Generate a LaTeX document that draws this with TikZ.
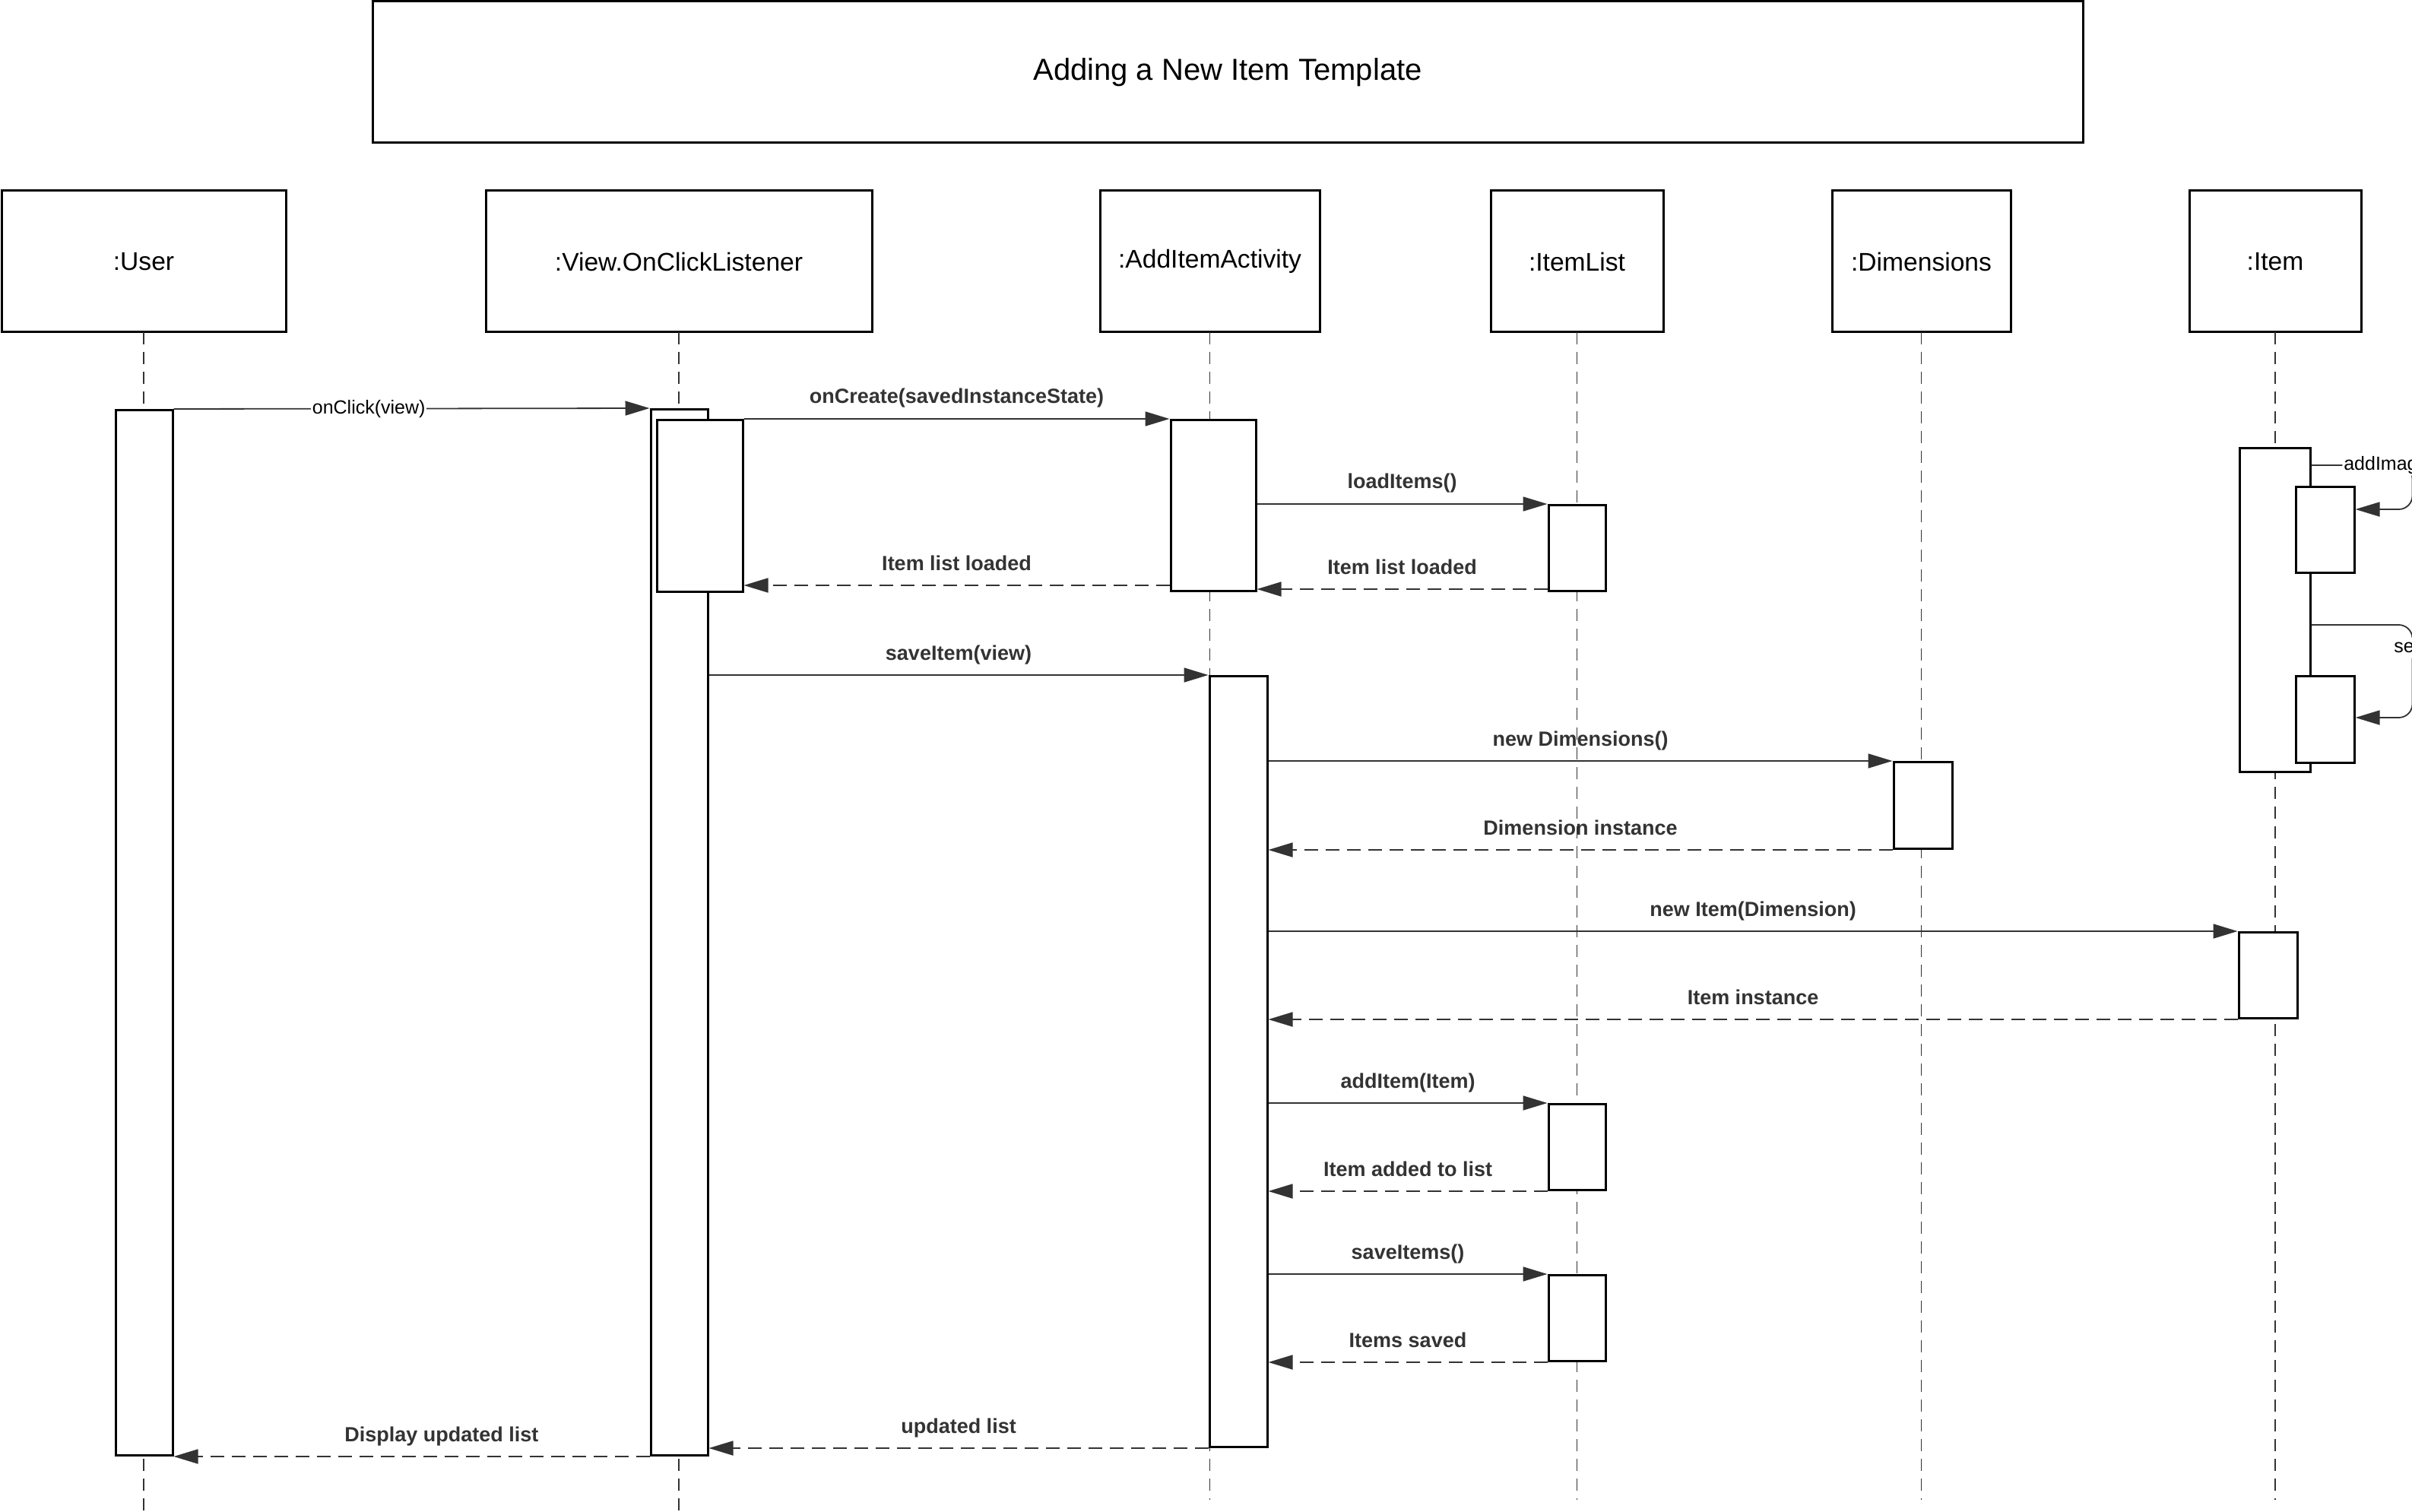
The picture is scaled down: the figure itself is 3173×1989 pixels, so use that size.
\documentclass[tikz,border=0pt]{standalone}
\usepackage{fontspec}
\setmainfont{Liberation Sans}
\usetikzlibrary{
arrows.meta,
positioning,
calc
}
\definecolor{msgcol}{HTML}{333333}

\begin{document}
\begin{tikzpicture}[
    x=0.5pt, y=-0.5pt,
    >={Triangle[length=16pt,width=9.5pt]},
    head/.style={draw,
      line width=1.5pt,
      minimum height=93pt,
      inner sep=0pt,
      outer sep=0pt,
      font=\fontsize{16.8}{20}\selectfont},
    act/.style={draw, fill=white, line width=1.5pt,
      minimum width=37.5pt, minimum height=56.5pt,
      inner sep=0pt, anchor=north},
    life/.style={draw=msgcol, line width=0.7pt, dash pattern=on 8pt off 5pt},
    msg/.style={color=msgcol, line width=0.9pt, ->},
    ret/.style={msg, dash pattern=on 9pt off 5pt},
    lbl/.style={midway, anchor=base, yshift=10pt, text=msgcol,
      font=\bfseries\fontsize{13.5}{16}\selectfont},
    call/.style={fill=white, inner sep=1pt, text=black,
      font=\fontsize{12.5}{15}\selectfont}
  ]
  \useasboundingbox (0,0) rectangle (3173,1989);
  \clip (0,0) rectangle (3173,1989);

  \node[head, minimum width=1125pt, font=\fontsize{20}{24}\selectfont] (title) at (1615,95) {Adding a New Item Template};

  \node[head, minimum width=187pt] (user) at (189,344) {:User};
  \node[head, minimum width=254pt, right=131.5pt of user] (view) {:View.OnClickListener};
  \node[head, minimum width=144.5pt, right=150pt of view] (add) {:AddItemActivity};
  \node[head, minimum width=113.5pt, right=112.5pt of add] (list) {:ItemList};
  \node[head, minimum width=117.5pt, right=111pt of list] (dim) {:Dimensions};
  \node[head, minimum width=113pt, right=117.5pt of dim] (item) {:Item};

  % lifelines
  \coordinate (endA) at (0,1989);
  \coordinate (endB) at (0,1973);
  \foreach \n in {user, view}
    \draw[life] (\n.south) -- (\n.south |- endA);
  \foreach \n in {add, list, dim, item}
    \draw[life] (\n.south) -- (\n.south |- endB);

  % activations
  \node[act, minimum height=687.5pt] (userA) at (189.5,538) {};
  \node[act, minimum height=688pt] (viewA) at (893.5,537) {};
  \node[act, minimum width=56.5pt, minimum height=113pt] (viewB) at (920.5,551) {};
  \node[act, minimum width=56pt, minimum height=112.5pt] (addA) at (1596,551) {};
  \node[act, minimum width=38pt, minimum height=507pt] (addB) at (1629,888) {};
  \node[act] (listA) at (2074.5,663) {};
  \node[act] (listB) at (2074.5,1451) {};
  \node[act] (listC) at (2074.5,1676) {};
  \node[act, minimum width=38.5pt, minimum height=57pt] (dimA) at (2529.5,1001) {};
  \node[act, minimum width=46.5pt, minimum height=213pt] (itemA) at (2992.5,588) {};
  \node[act, minimum width=38.5pt] (itemB) at (3058.5,639) {};
  \node[act, minimum width=38.5pt, minimum height=57pt] (itemC) at (3058.5,888) {};
  \node[act, minimum width=38.5pt] (itemD) at (2983.5,1225) {};

  % messages
  \draw[msg] (userA.north east) -- node[call, pos=0.41] {onClick(view)} (viewA.north west);
  \draw[msg] (viewB.east |- addA.north) -- node[lbl] {onCreate(savedInstanceState)} (addA.north west);
  \draw[msg] (addA.east |- listA.north) -- node[lbl] {loadItems()} (listA.north west);
  \draw[ret] ([yshift=2pt]listA.south west) -- node[lbl] {Item list loaded} ([yshift=2pt]addA.east |- listA.south);
  \draw[ret] ([yshift=4.5pt]addA.south west) -- node[lbl] {Item list loaded} ([yshift=4.5pt]viewB.east |- addA.south);
  \draw[msg] (viewA.east |- addB.north) -- node[lbl] {saveItem(view)} (addB.north west);
  \draw[msg] (addB.east |- dimA.north) -- node[lbl] {new Dimensions()} (dimA.north west);
  \draw[ret] (dimA.south west) -- node[lbl] {Dimension instance} (addB.east |- dimA.south);
  \draw[msg] (addB.east |- itemD.north) -- node[lbl] {new Item(Dimension)} (itemD.north west);
  \draw[ret] (itemD.south west) -- node[lbl] {Item instance} (addB.east |- itemD.south);
  \draw[msg] (addB.east |- listB.north) -- node[lbl] {addItem(Item)} (listB.north west);
  \draw[ret] (listB.south west) -- node[lbl] {Item added to list} (addB.east |- listB.south);
  \draw[msg] (addB.east |- listC.north) -- node[lbl] {saveItems()} (listC.north west);
  \draw[ret] (listC.south west) -- node[lbl] {Items saved} (addB.east |- listC.south);
  \draw[ret] (addB.south west) -- node[lbl] {updated list} (viewA.east |- addB.south);
  \draw[ret] (viewA.south west) -- node[lbl, pos=0.437] {Display updated list} (userA.south east);

  % self calls on Item
  \draw[msg, rounded corners=9pt] ([yshift=-12pt]itemA.north east) -- ++(133,0)
    node[call, pos=0.3, anchor=west] {addImage()} -- ++(0,58) -- ([yshift=-15.5pt]itemB.north east);
  \draw[msg, rounded corners=9pt] ([yshift=-117pt]itemA.north east) -- ++(133,0) -- ++(0,122)
    node[call, pos=0.25, anchor=west, xshift=-13.5pt] {setImage()} -- ([yshift=-28pt]itemC.north east);
\end{tikzpicture}
\end{document}
